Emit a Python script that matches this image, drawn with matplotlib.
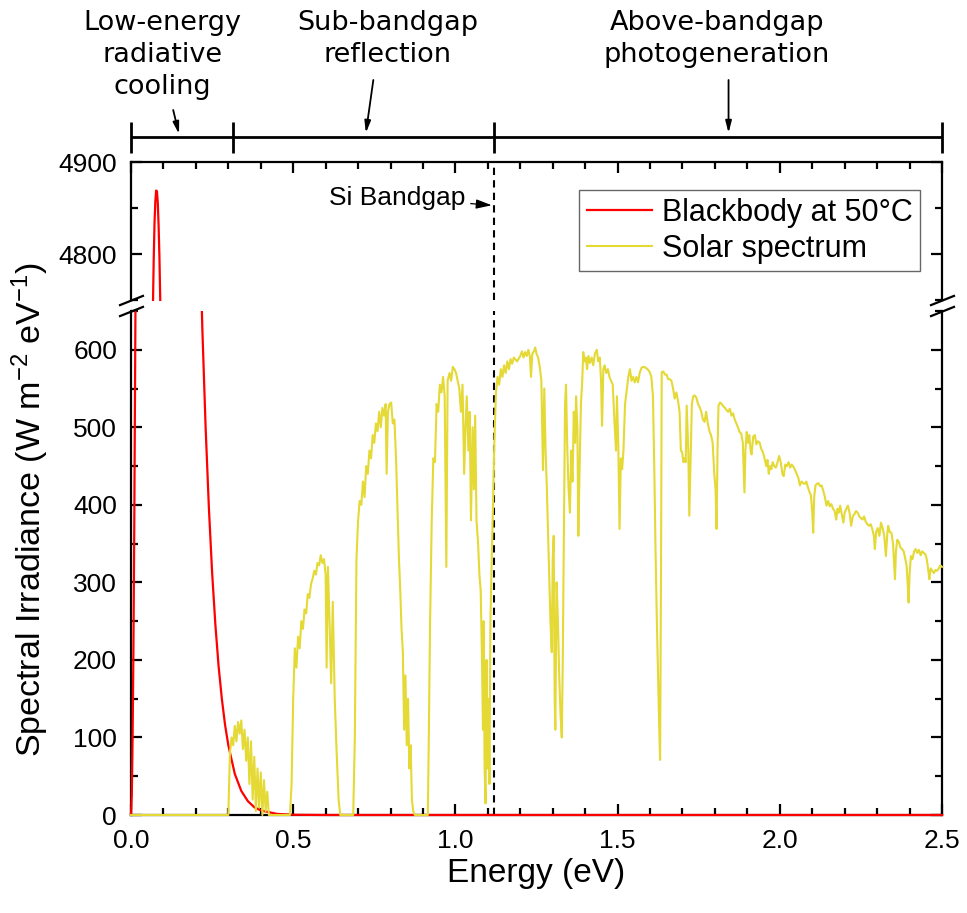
import matplotlib
matplotlib.use('Agg')
import matplotlib.pyplot as plt
from matplotlib.patches import Rectangle
from matplotlib.ticker import MultipleLocator

# ---------------- data ----------------
energy_bb = [0.0, 0.0025, 0.005, 0.0075, 0.01, 0.015, 0.02, 0.025, 0.03, 0.035,
             0.04, 0.045, 0.05, 0.055, 0.06, 0.065, 0.0675, 0.07, 0.0725, 0.075,
             0.0775, 0.08, 0.0825, 0.085, 0.0875, 0.09, 0.095, 0.10, 0.11, 0.12,
             0.13, 0.14, 0.15, 0.16, 0.17, 0.18, 0.19, 0.20, 0.21, 0.22,
             0.23, 0.24, 0.25, 0.26, 0.27, 0.28, 0.29, 0.30, 0.32, 0.34,
             0.36, 0.38, 0.40, 0.45, 0.50, 0.60, 2.50]
irr_bb = [0, 26, 101, 216, 367, 750, 1208, 1705, 2211, 2705,
          3168, 3585, 3948, 4252, 4495, 4675, 4741, 4794, 4834, 4857,
          4869, 4868, 4856, 4832, 4799, 4753, 4641, 4497, 4146, 3735,
          3303, 2873, 2462, 2081, 1741, 1444, 1185, 966, 781, 626,
          500, 397, 313, 246, 192, 150, 116, 90, 53, 31,
          18, 10, 6, 1.4, 0.3, 0, 0]

energy_solar = [
    0.00, 0.30, 0.305, 0.31, 0.315, 0.32, 0.325, 0.33, 0.335, 0.34, 0.345, 0.35,
    0.355, 0.36, 0.365, 0.37, 0.375, 0.38, 0.385, 0.39, 0.395, 0.40, 0.405, 0.41,
    0.415, 0.42, 0.425, 0.43, 0.49, 0.495, 0.50, 0.505, 0.51, 0.515, 0.52, 0.525,
    0.53, 0.535, 0.54, 0.545, 0.55, 0.555, 0.56, 0.565, 0.57, 0.575, 0.58, 0.585,
    0.59, 0.595, 0.60, 0.603, 0.607, 0.612, 0.617, 0.622, 0.628, 0.634, 0.64, 0.645,
    0.685, 0.69, 0.695, 0.70, 0.705, 0.71, 0.715, 0.72, 0.725, 0.73, 0.735, 0.74,
    0.745, 0.75, 0.755, 0.76, 0.765, 0.77, 0.775, 0.78, 0.785, 0.788, 0.792, 0.797,
    0.802, 0.807, 0.812, 0.817, 0.822, 0.826, 0.83, 0.834, 0.838, 0.842, 0.846, 0.85,
    0.854, 0.858, 0.862, 0.866, 0.87, 0.875, 0.915, 0.918, 0.922, 0.927, 0.932, 0.937,
    0.942, 0.947, 0.952, 0.957, 0.962, 0.967, 0.972, 0.976, 0.982, 0.987, 0.992, 0.997,
    1.002, 1.007, 1.012, 1.017, 1.022, 1.027, 1.031, 1.035, 1.04, 1.044, 1.048, 1.053,
    1.057, 1.061, 1.065, 1.07, 1.074, 1.078, 1.082, 1.085, 1.087, 1.09, 1.093, 1.096,
    1.099, 1.102, 1.105, 1.108, 1.112, 1.116, 1.12, 1.125, 1.13, 1.135, 1.14, 1.145,
    1.15, 1.155, 1.16, 1.165, 1.17, 1.175, 1.18, 1.19, 1.20, 1.205, 1.21, 1.215,
    1.22, 1.225, 1.23, 1.233, 1.237, 1.242, 1.246, 1.25, 1.255, 1.26, 1.265, 1.27,
    1.274, 1.278, 1.282, 1.286, 1.29, 1.293, 1.297, 1.30, 1.303, 1.306, 1.308, 1.312,
    1.316, 1.32, 1.324, 1.328, 1.331, 1.335, 1.338, 1.341, 1.345, 1.349, 1.353, 1.357,
    1.361, 1.365, 1.369, 1.372, 1.376, 1.379, 1.383, 1.387, 1.391, 1.394, 1.398, 1.402,
    1.406, 1.41, 1.415, 1.42, 1.425, 1.43, 1.436, 1.44, 1.445, 1.449, 1.452, 1.456,
    1.46, 1.465, 1.47, 1.475, 1.48, 1.485, 1.49, 1.495, 1.498, 1.502, 1.506, 1.51,
    1.514, 1.518, 1.523, 1.528, 1.533, 1.538, 1.543, 1.548, 1.553, 1.558, 1.563, 1.568,
    1.574, 1.58, 1.586, 1.592, 1.598, 1.604, 1.609, 1.613, 1.617, 1.621, 1.625, 1.628,
    1.631, 1.634, 1.636, 1.641, 1.646, 1.651, 1.656, 1.661, 1.666, 1.671, 1.676, 1.681,
    1.686, 1.691, 1.695, 1.699, 1.703, 1.707, 1.71, 1.713, 1.718, 1.721, 1.725, 1.729,
    1.733, 1.738, 1.743, 1.748, 1.753, 1.758, 1.763, 1.768, 1.773, 1.778, 1.783, 1.788,
    1.793, 1.798, 1.802, 1.805, 1.808, 1.811, 1.816, 1.821, 1.826, 1.831, 1.836, 1.841,
    1.846, 1.851, 1.856, 1.861, 1.866, 1.871, 1.876, 1.881, 1.886, 1.889, 1.891, 1.894,
    1.898, 1.902, 1.906, 1.91, 1.913, 1.918, 1.923, 1.928, 1.933, 1.938, 1.943, 1.948,
    1.953, 1.958, 1.962, 1.966, 1.97, 1.974, 1.978, 1.983, 1.988, 1.993, 1.998, 2.003,
    2.008, 2.012, 2.017, 2.022, 2.027, 2.032, 2.037, 2.042, 2.047, 2.052, 2.057, 2.062,
    2.067, 2.072, 2.077, 2.082, 2.087, 2.092, 2.096, 2.10, 2.103, 2.106, 2.11, 2.114,
    2.119, 2.124, 2.129, 2.134, 2.139, 2.144, 2.149, 2.154, 2.159, 2.164, 2.169, 2.174,
    2.178, 2.182, 2.186, 2.191, 2.196, 2.20, 2.205, 2.21, 2.215, 2.22, 2.225, 2.23,
    2.235, 2.24, 2.245, 2.25, 2.255, 2.26, 2.265, 2.27, 2.275, 2.28, 2.285, 2.29,
    2.293, 2.297, 2.302, 2.307, 2.312, 2.317, 2.322, 2.327, 2.331, 2.334, 2.339, 2.344,
    2.349, 2.353, 2.355, 2.358, 2.362, 2.367, 2.372, 2.377, 2.382, 2.387, 2.391, 2.394,
    2.397, 2.40, 2.404, 2.409, 2.414, 2.419, 2.424, 2.429, 2.434, 2.439, 2.444, 2.449,
    2.453, 2.458, 2.461, 2.465, 2.47, 2.475, 2.48, 2.485, 2.49, 2.495, 2.50]
irr_solar = [
    0, 0, 80, 100, 90, 115, 95, 120, 105, 122, 85, 110,
    70, 100, 40, 95, 20, 75, 5, 60, 10, 55, 0, 45,
    5, 30, 0, 0, 0, 40, 150, 215, 190, 230, 215, 250,
    240, 265, 260, 285, 280, 298, 305, 315, 310, 325, 322, 335,
    325, 330, 310, 190, 320, 250, 170, 275, 150, 80, 20, 0,
    0, 100, 330, 380, 405, 400, 430, 410, 450, 440, 470, 460,
    490, 480, 505, 495, 520, 500, 525, 515, 530, 440, 520, 530,
    532, 505, 510, 460, 390, 330, 290, 240, 210, 110, 180, 90,
    150, 60, 90, 20, 5, 0, 0, 100, 250, 380, 460, 455,
    530, 520, 555, 545, 565, 540, 320, 560, 570, 560, 578, 575,
    570, 560, 550, 520, 555, 440, 500, 540, 470, 520, 380, 500,
    420, 515, 380, 350, 310, 290, 200, 110, 250, 60, 15, 200,
    60, 150, 40, 250, 330, 400, 480, 545, 565, 555, 575, 565,
    580, 570, 585, 575, 588, 582, 590, 585, 592, 598, 590, 597,
    592, 600, 590, 565, 595, 598, 603, 595, 590, 578, 560, 445,
    550, 470, 420, 360, 300, 250, 210, 330, 360, 150, 110, 300,
    250, 180, 130, 100, 200, 380, 530, 555, 470, 420, 390, 470,
    430, 520, 480, 540, 500, 360, 450, 530, 560, 597, 585, 590,
    575, 592, 583, 590, 580, 595, 600, 585, 590, 560, 502, 575,
    580, 570, 575, 565, 560, 555, 510, 470, 540, 480, 369, 460,
    446, 470, 530, 548, 565, 575, 560, 565, 558, 565, 558, 570,
    577, 578, 577, 575, 572, 565, 540, 450, 340, 250, 175, 120,
    71, 330, 571, 572, 568, 568, 562, 562, 560, 550, 537, 545,
    535, 520, 470, 468, 455, 460, 455, 528, 470, 386, 460, 530,
    540, 541, 538, 530, 526, 520, 510, 507, 520, 505, 495, 490,
    480, 440, 420, 369, 470, 528, 532, 530, 527, 525, 522, 520,
    524, 515, 518, 510, 505, 500, 494, 492, 480, 440, 416, 470,
    494, 480, 490, 470, 465, 488, 490, 478, 482, 480, 472, 468,
    460, 450, 458, 440, 450, 446, 455, 450, 448, 455, 463, 455,
    440, 437, 452, 450, 455, 448, 452, 449, 445, 440, 435, 425,
    430, 428, 427, 430, 422, 416, 412, 390, 364, 410, 425, 427,
    428, 424, 425, 418, 410, 399, 405, 398, 401, 395, 392, 381,
    395, 390, 399, 388, 377, 390, 395, 399, 390, 373, 385, 388,
    392, 390, 385, 383, 381, 385, 378, 375, 373, 375, 369, 360,
    343, 365, 370, 360, 377, 370, 360, 334, 360, 373, 365, 364,
    350, 320, 304, 340, 355, 352, 345, 343, 340, 330, 321, 300,
    274, 310, 334, 330, 340, 343, 338, 342, 335, 340, 338, 336,
    330, 315, 304, 318, 315, 312, 316, 315, 318, 322, 320]

series_labels = ['Blackbody at 50\u00b0C', 'Solar spectrum']
region_edges = [0.0, 0.315, 1.12, 2.5]
region_labels = ['Low-energy\nradiative\ncooling', 'Sub-bandgap\nreflection',
                 'Above-bandgap\nphotogeneration']
bandgap_energy = 1.12
x_tick_values = [0.0, 0.5, 1.0, 1.5, 2.0, 2.5]
x_tick_labels = ['0.0', '0.5', '1.0', '1.5', '2.0', '2.5']
lower_y_ticks = [0, 100, 200, 300, 400, 500, 600]
upper_y_ticks = [4800, 4900]

# ---------------- styling ----------------
plt.rcParams['font.family'] = ['Liberation Sans', 'DejaVu Sans']
plt.rcParams['mathtext.fontset'] = 'custom'
plt.rcParams['mathtext.rm'] = 'Liberation Sans'
plt.rcParams['mathtext.it'] = 'Liberation Sans:italic'
plt.rcParams['axes.linewidth'] = 1.6

RED = '#ff0000'
YELLOW = '#e4d935'
W, H = 967.0, 913.0
L, R = 131, 942

fig = plt.figure(figsize=(W / 100, H / 100), dpi=100)
ax_up = fig.add_axes([L / W, 1 - 300 / H, (R - L) / W, 138 / H])
ax_lo = fig.add_axes([L / W, 1 - 815 / H, (R - L) / W, 504 / H])
ax_top = fig.add_axes([L / W, 1 - 162 / H, (R - L) / W, 162 / H])

for ax in (ax_up, ax_lo):
    lb, = ax.plot(energy_bb, irr_bb, color=RED, lw=1.6, zorder=3)
    ls, = ax.plot(energy_solar, irr_solar, color=YELLOW, lw=1.5, zorder=3.5)
    for ln in (lb, ls):
        ln.set_clip_path(Rectangle((-0.004, -0.006), 1.008, 1.006,
                                   transform=ax.transAxes))
    ax.axvline(bandgap_energy, color='k', lw=1.5, ls=(0, (3.5, 2.5)), zorder=2)
    ax.set_xlim(0, 2.5)
    ax.xaxis.set_major_locator(MultipleLocator(0.5))
    ax.xaxis.set_minor_locator(MultipleLocator(0.1))
    ax.yaxis.set_minor_locator(MultipleLocator(50))
    ax.tick_params(which='both', direction='in', width=1.6, left=True, right=True,
                   labelsize=19)
    ax.tick_params(which='major', length=8)
    ax.tick_params(which='minor', length=5)
    if ax is ax_up:
        handles = [lb, ls]

ax_up.set_ylim(4750, 4900)
ax_up.set_yticks(upper_y_ticks)
ax_up.spines['bottom'].set_visible(False)
ax_up.tick_params(which='both', bottom=False, top=True, labelbottom=False)
ax_up.tick_params(axis='y', pad=10)

ax_lo.set_ylim(0, 650)
ax_lo.set_yticks(lower_y_ticks)
ax_lo.set_xticks(x_tick_values)
ax_lo.set_xticklabels(x_tick_labels)
ax_lo.spines['top'].set_visible(False)
ax_lo.tick_params(which='both', top=False, bottom=True)
ax_lo.tick_params(axis='x', pad=10)
ax_lo.tick_params(axis='y', pad=10)

# break marks
kw = dict(marker=[(-1, -0.4), (1, 0.4)], markersize=18, linestyle='none',
          color='k', mec='k', mew=1.6, clip_on=False, zorder=5)
ax_up.plot([0, 1], [0, 0], transform=ax_up.transAxes, **kw)
ax_lo.plot([0, 1], [1, 1], transform=ax_lo.transAxes, **kw)

# labels
ax_lo.set_xlabel('Energy (eV)', fontsize=24, va='center')
ax_lo.xaxis.set_label_coords(0.5, (815 - 873) / 504)
ax_lo.set_ylabel('Spectral Irradiance (W m$^{-2}$ eV$^{-1}$)', fontsize=24.5,
                 va='center')
ax_lo.yaxis.set_label_coords((30 - L) / (R - L), (815 - 510) / 504)

# legend
leg = ax_up.legend(handles, series_labels, loc='upper right',
                   bbox_to_anchor=((920 - L) / (R - L), (300 - 190) / 138),
                   borderaxespad=0, fontsize=22, frameon=True, fancybox=False,
                   edgecolor='#666666', framealpha=1, handlelength=2.15,
                   handletextpad=0.3, labelspacing=0.2, borderpad=0.25)
leg.get_frame().set_linewidth(1.0)

# Si bandgap annotation
ax_up.annotate('Si Bandgap', xy=(bandgap_energy - 0.008, 4853),
               xytext=(1.03, 4861), ha='right', va='center', fontsize=19,
               arrowprops=dict(arrowstyle='-|>,head_width=0.15,head_length=0.5',
                               color='k', lw=0.9, shrinkA=2, shrinkB=0))

# top region bar
ax_top.set_xlim(0, 2.5)
ax_top.set_ylim(0, 1)
ax_top.axis('off')
bar_y = (162 - 137) / 162
ax_top.hlines(bar_y, region_edges[0], region_edges[-1], color='k', lw=2.0,
              clip_on=False)
ax_top.vlines(region_edges, (162 - 153) / 162, (162 - 122) / 162, color='k',
              lw=2.0, clip_on=False)
label_x = [0.096, 0.792, 1.806]
arrow_from = [(0.130, (162 - 110) / 162), (0.747, (162 - 80) / 162),
              (1.842, (162 - 80) / 162)]
arrow_to = [(0.148, (162 - 134) / 162), (0.724, (162 - 133) / 162),
            (1.842, (162 - 133) / 162)]
for lx, text, a0, a1 in zip(label_x, region_labels, arrow_from, arrow_to):
    ax_top.text(lx, (162 - 10) / 162, text, ha='center', va='top',
                fontsize=19.5, family='DejaVu Sans', linespacing=1.3,
                clip_on=False)
    ax_top.annotate('', xy=a1, xytext=a0,
                    arrowprops=dict(arrowstyle='-|>,head_width=0.18,head_length=0.7',
                                    color='k', lw=1.3, shrinkA=0, shrinkB=0))

fig.savefig('out.png', dpi=100)
